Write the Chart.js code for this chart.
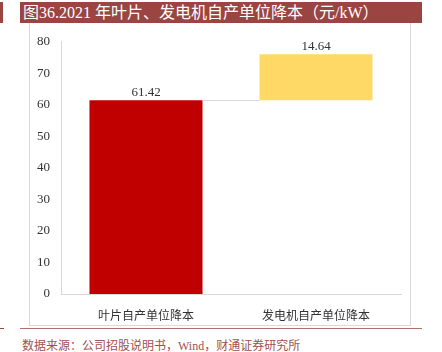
<!DOCTYPE html>
<html lang="zh">
<head>
<meta charset="UTF-8">
<title>叶片、发电机自产单位降本</title>
<script src="https://cdn.jsdelivr.net/npm/chart.js"></script>
<style>
  body { margin: 0; width: 442px; height: 352px; background: #fff; position: relative; overflow: hidden; }
  #mark { position: absolute; left: 0; top: 2px; width: 3px; height: 21px; background: #9b4543; }
  #title { position: absolute; left: 20px; top: 2px; width: 402px; height: 21px; background: #9b4543; color: #fff;
           font: 16px "Liberation Serif", "Noto Sans CJK SC", serif; line-height: 21px; padding-left: 3px; box-sizing: border-box; white-space: nowrap; }
  #box { position: absolute; left: 29px; top: 23px; width: 382px; height: 303px; border: 1px solid #d9d9d9; border-top: none; box-sizing: border-box; }
  #chartWrap { position: absolute; left: 0; top: 0; width: 381px; height: 302px; }
  #rule { position: absolute; left: 20px; top: 328px; width: 402px; height: 1px; background: #b06f6b; }
  #rule2 { position: absolute; left: 0; top: 328px; width: 4px; height: 1px; background: #9b4543; }
  #source { position: absolute; left: 22px; top: 336px; color: #a0524e; font: 12px "Liberation Serif", "Noto Sans CJK SC", serif; white-space: nowrap; }
</style>
</head>
<body>
<div id="mark"></div>
<div id="title">图36.2021 年叶片、发电机自产单位降本（元/kW）</div>
<div id="box"><div id="chartWrap"><canvas id="costChart"></canvas></div></div>
<div id="rule2"></div>
<div id="rule"></div>
<div id="source">数据来源：公司招股说明书，Wind，财通证券研究所</div>

<script>
const categories = ['叶片自产单位降本', '发电机自产单位降本'];
const values = [61.42, 14.64];
const barColors = ['#c00000', '#ffd966'];
const yTicks = [0, 10, 20, 30, 40, 50, 60, 70, 80];

// waterfall: each bar starts where the previous one ended
let running = 0;
const floating = values.map(v => {
    const seg = [running, running + v];
    running += v;
    return seg;
});

const labelPlugin = {
    id: 'barLabels',
    afterDatasetsDraw(chart) {
        const ctx = chart.ctx;
        const meta = chart.getDatasetMeta(0);
        const y = chart.scales.y;
        ctx.save();
        // connector between bars
        const b0 = meta.data[0], b1 = meta.data[1];
        const cy = Math.round(y.getPixelForValue(floating[0][1])) + 0.5;
        ctx.strokeStyle = '#d9d9d9';
        ctx.lineWidth = 1;
        ctx.beginPath();
        ctx.moveTo(b0.x + b0.width / 2, cy);
        ctx.lineTo(b1.x - b1.width / 2, cy);
        ctx.stroke();
        // value labels
        ctx.fillStyle = '#333';
        ctx.font = '13px "Liberation Serif", serif';
        ctx.textAlign = 'center';
        ctx.textBaseline = 'bottom';
        meta.data.forEach((bar, i) => {
            ctx.fillText(values[i].toFixed(2), bar.x, bar.y - 1);
        });
        ctx.restore();
    }
};

new Chart(document.getElementById('costChart'), {
    type: 'bar',
    data: {
        labels: categories,
        datasets: [{
            data: floating,
            backgroundColor: barColors,
            borderWidth: 0,
            barPercentage: 0.665,
            categoryPercentage: 1
        }]
    },
    options: {
        responsive: true,
        maintainAspectRatio: false,
        animation: false,
        layout: { padding: { top: 10, right: 10, left: 0, bottom: 0 } },
        plugins: { legend: { display: false }, tooltip: { enabled: false } },
        scales: {
            x: {
                grid: { display: false, drawTicks: false },
                border: { color: '#d9d9d9' },
                ticks: { color: '#333', padding: 14, font: { family: '"Noto Sans CJK SC"', size: 12 } },
                afterFit(scale) { scale.height = 31; }
            },
            y: {
                min: 0,
                max: 80,
                grid: { display: false, drawTicks: false },
                border: { color: '#d9d9d9' },
                afterBuildTicks(scale) { scale.ticks = yTicks.map(v => ({ value: v })); },
                ticks: { color: '#333', padding: 11, font: { family: '"Liberation Serif"', size: 13 } },
                afterFit(scale) { scale.width = 31; }
            }
        }
    },
    plugins: [labelPlugin]
});
</script>
</body>
</html>
